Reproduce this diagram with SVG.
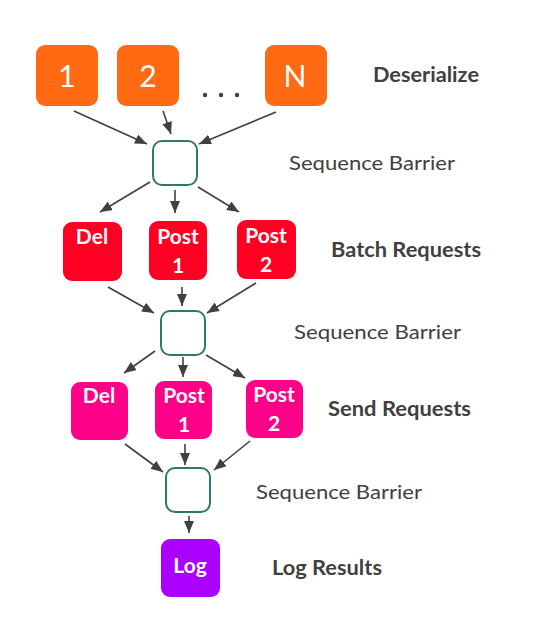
<svg xmlns="http://www.w3.org/2000/svg" width="548" height="637" viewBox="0 0 548 637">
<defs>
<marker id="ah" markerUnits="userSpaceOnUse" markerWidth="12" markerHeight="10" viewBox="0 0 12 10" refX="12" refY="5" orient="auto">
<path d="M0,0 L12,5 L0,10 z" fill="#404040"/>
</marker>
</defs>
<style>
.lbl{font-family:Lato,"Open Sans","Liberation Sans",sans-serif;fill:#404040;font-size:20px}
.b{font-weight:bold}
.nt{font-family:Lato,"Open Sans","Liberation Sans",sans-serif;fill:#fff;text-anchor:middle}
.big{font-size:30px}
.bt{font-size:21px;font-weight:bold}
.bar{fill:#fff;stroke:#2e7a68;stroke-width:2}
.c line{stroke:#404040;stroke-width:1.6;marker-end:url(#ah)}
</style>
<rect width="548" height="637" fill="#fff"/>
<g id="n1"><rect x="36" y="45" width="62" height="61" rx="9" fill="#ff6a13"/><text class="nt big" x="67" y="87">1</text></g>
<g id="n2"><rect x="117" y="45" width="62" height="61" rx="9" fill="#ff6a13"/><text class="nt big" x="148" y="87">2</text></g>
<g id="dots"><circle cx="205" cy="95" r="2.2" fill="#404040"/><circle cx="221" cy="95" r="2.2" fill="#404040"/><circle cx="237" cy="95" r="2.2" fill="#404040"/></g>
<g id="nN"><rect x="265" y="45" width="62" height="61" rx="9" fill="#ff6a13"/><text class="nt big" x="295" y="87">N</text></g>
<g id="bar1"><rect class="bar" x="153" y="141" width="44" height="44" rx="9"/></g>
<g id="del1"><rect x="63" y="222" width="59" height="59" rx="9" fill="#ff0022"/><text class="nt bt" x="92" y="244">Del</text></g>
<g id="post11"><rect x="149" y="221" width="58" height="59" rx="9" fill="#ff0022"/><text class="nt bt" x="178" y="244">Post</text><text class="nt bt" x="178" y="273">1</text></g>
<g id="post21"><rect x="237" y="220" width="59" height="59" rx="9" fill="#ff0022"/><text class="nt bt" x="266" y="243">Post</text><text class="nt bt" x="266" y="272">2</text></g>
<g id="bar2"><rect class="bar" x="161" y="311" width="44" height="44" rx="9"/></g>
<g id="del2"><rect x="71" y="382" width="57" height="58" rx="9" fill="#ff0088"/><text class="nt bt" x="99" y="403">Del</text></g>
<g id="post12"><rect x="155" y="381" width="57" height="58" rx="9" fill="#ff0088"/><text class="nt bt" x="184" y="403">Post</text><text class="nt bt" x="184" y="432">1</text></g>
<g id="post22"><rect x="246" y="380" width="57" height="58" rx="9" fill="#ff0088"/><text class="nt bt" x="274" y="402">Post</text><text class="nt bt" x="274" y="431">2</text></g>
<g id="bar3"><rect class="bar" x="166" y="468" width="44" height="44" rx="9"/></g>
<g id="log"><rect x="161" y="539" width="59" height="58" rx="9" fill="#aa00ff"/><text class="nt bt" x="190" y="573">Log</text></g>
<g id="labels">
<text class="lbl b" x="373" y="82" textLength="106" lengthAdjust="spacingAndGlyphs">Deserialize</text>
<text class="lbl" x="289" y="170" textLength="166" lengthAdjust="spacingAndGlyphs">Sequence Barrier</text>
<text class="lbl b" x="331" y="257" textLength="150" lengthAdjust="spacingAndGlyphs">Batch Requests</text>
<text class="lbl" x="294" y="339" textLength="167" lengthAdjust="spacingAndGlyphs">Sequence Barrier</text>
<text class="lbl b" x="328" y="416" textLength="143" lengthAdjust="spacingAndGlyphs">Send Requests</text>
<text class="lbl" x="256" y="499" textLength="166" lengthAdjust="spacingAndGlyphs">Sequence Barrier</text>
<text class="lbl b" x="272" y="575" textLength="110" lengthAdjust="spacingAndGlyphs">Log Results</text>
</g>
<g id="connectors" class="c">
<line x1="74" y1="111" x2="147" y2="144"/>
<line x1="163" y1="111" x2="171" y2="134"/>
<line x1="276" y1="112" x2="199" y2="144"/>
<line x1="150" y1="182" x2="100" y2="212"/>
<line x1="175" y1="190" x2="175" y2="213"/>
<line x1="198" y1="187" x2="239" y2="212"/>
<line x1="108" y1="287" x2="154" y2="313"/>
<line x1="182" y1="287" x2="182" y2="306"/>
<line x1="256" y1="283" x2="207" y2="313"/>
<line x1="155" y1="351" x2="124" y2="373"/>
<line x1="183" y1="357" x2="183" y2="377"/>
<line x1="206" y1="355" x2="245" y2="378"/>
<line x1="125" y1="444" x2="163" y2="472"/>
<line x1="185" y1="444" x2="185" y2="465"/>
<line x1="250" y1="441" x2="214" y2="470"/>
<line x1="189" y1="516" x2="189" y2="533"/>
</g>
</svg>
